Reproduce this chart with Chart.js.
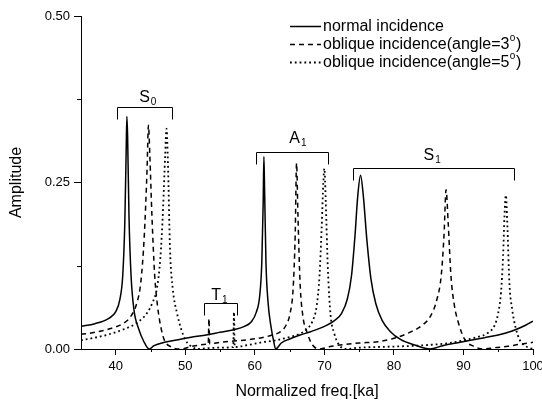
<!DOCTYPE html>
<html>
<head>
<meta charset="utf-8">
<title>Amplitude vs normalized frequency</title>
<script src="https://cdn.jsdelivr.net/npm/chart.js@4.4.0/dist/chart.umd.min.js"></script>
<style>
  html, body { margin: 0; padding: 0; background: #fff; }
  #chart { display: block; }
</style>
</head>
<body>
<canvas id="chart" width="542" height="403"></canvas>
<script>
// values
const normalX = [35, 37, 39, 40, 40.6, 41.0, 41.3, 41.5, 41.6, 41.7, 41.9, 42.2, 42.6, 43.3, 44.0, 44.8, 45.5, 47, 49, 51, 53, 55, 57, 58.5, 59.5, 60.2, 60.7, 61.0, 61.2, 61.3, 61.4, 61.6, 61.9, 62.3, 62.7, 63.0, 63.8, 65, 66.5, 68, 70, 71.5, 72.5, 73.3, 73.9, 74.4, 74.8, 75.2, 75.6, 76.1, 76.7, 77.4, 78.3, 79.5, 81, 83, 85.2, 87, 89, 91, 93, 95, 97, 99, 100];
const normalY = [0.034, 0.038, 0.046, 0.056, 0.075, 0.11, 0.19, 0.30, 0.349, 0.32, 0.20, 0.11, 0.06, 0.03, 0.012, 0.0, 0.005, 0.010, 0.014, 0.018, 0.021, 0.025, 0.029, 0.034, 0.041, 0.055, 0.08, 0.13, 0.22, 0.289, 0.24, 0.13, 0.07, 0.035, 0.012, 0.0, 0.009, 0.015, 0.021, 0.026, 0.034, 0.043, 0.054, 0.075, 0.11, 0.17, 0.23, 0.261, 0.23, 0.165, 0.105, 0.068, 0.043, 0.026, 0.014, 0.006, 0.0, 0.005, 0.009, 0.013, 0.017, 0.021, 0.027, 0.036, 0.042];

const oblique3X = [35, 37, 39, 41, 42.1, 43.0, 43.6, 44.1, 44.5, 44.7, 44.9, 45.2, 45.6, 46.0, 46.5, 47.0, 48.0, 49.3, 51, 53.0, 53.3, 53.4, 53.5, 55, 57, 59, 61, 62.5, 63.7, 64.5, 65.1, 65.5, 65.8, 66.0, 66.2, 66.5, 66.9, 67.5, 68.3, 69.3, 71, 73, 75, 77.7, 80, 82.5, 84, 85.3, 86.2, 86.8, 87.2, 87.5, 87.8, 88.2, 88.7, 89.2, 90.2, 91.5, 92.8, 94.5, 96.4, 98, 100];
const oblique3Y = [0.022, 0.025, 0.030, 0.038, 0.048, 0.068, 0.10, 0.17, 0.27, 0.336, 0.29, 0.20, 0.11, 0.065, 0.032, 0.013, 0.003, 0.0, 0.004, 0.007, 0.007, 0.046, 0.008, 0.010, 0.012, 0.014, 0.017, 0.021, 0.026, 0.036, 0.055, 0.09, 0.17, 0.279, 0.20, 0.10, 0.05, 0.025, 0.006, 0.0, 0.004, 0.007, 0.009, 0.011, 0.016, 0.026, 0.035, 0.05, 0.075, 0.11, 0.17, 0.239, 0.19, 0.11, 0.065, 0.042, 0.014, 0.004, 0.0, 0.002, 0.004, 0.007, 0.010];

const oblique5X = [35, 37, 39, 41, 43, 44.5, 45.3, 45.9, 46.4, 46.8, 47.1, 47.3, 47.5, 47.8, 48.2, 48.8, 49.4, 50.0, 50.7, 51.8, 53, 55, 56.9, 57.0, 57.1, 59, 61, 63, 65, 66.5, 67.5, 68.3, 68.9, 69.3, 69.6, 69.85, 70.0, 70.2, 70.5, 70.9, 71.4, 72.0, 73.0, 75, 77.7, 81, 84.9, 88, 90.2, 92, 93.5, 94.5, 95.0, 95.4, 95.7, 95.9, 96.1, 96.3, 96.6, 97.0, 97.5, 98.1, 99, 100];
const oblique5Y = [0.013, 0.017, 0.022, 0.029, 0.039, 0.054, 0.07, 0.09, 0.135, 0.21, 0.29, 0.331, 0.28, 0.15, 0.09, 0.054, 0.03, 0.014, 0.005, 0.0, 0.001, 0.002, 0.003, 0.055, 0.003, 0.006, 0.010, 0.013, 0.018, 0.023, 0.030, 0.042, 0.065, 0.11, 0.18, 0.25, 0.271, 0.22, 0.12, 0.05, 0.024, 0.008, 0.0, 0.002, 0.003, 0.004, 0.006, 0.009, 0.0135, 0.018, 0.024, 0.036, 0.054, 0.085, 0.14, 0.20, 0.231, 0.19, 0.10, 0.06, 0.032, 0.0135, 0.004, 0.0];

const seriesLabels = ['normal incidence', 'oblique incidence(angle=3°)', 'oblique incidence(angle=5°)'];

const xTickValues = [40, 50, 60, 70, 80, 90, 100];
const xMinorTicks = [45, 55, 65, 75, 85, 95];
const yTickValues = [0, 0.25, 0.5];
const yMinorTicks = [0.125, 0.375];

// mode brackets: label, subscript, x range, top of bracket, label anchor
const modeBrackets = [
  { name: 'S', sub: '0', from: 40.2, to: 48.1, top: 0.364, labelX: 44.6, labelY: 0.371 },
  { name: 'T', sub: '1', from: 52.7, to: 57.5, top: 0.0695, labelX: 54.9, labelY: 0.0735 },
  { name: 'A', sub: '1', from: 60.2, to: 70.5, top: 0.296, labelX: 66.2, labelY: 0.309 },
  { name: 'S', sub: '1', from: 74.1, to: 97.3, top: 0.272, labelX: 85.5, labelY: 0.284 }
];

const FONT = "'Liberation Sans', Arial, sans-serif";

function toPoints(xs, ys) {
  return xs.map((x, i) => ({ x: x, y: ys[i] }));
}

// draws a string where "°" is shown as a raised small "o"
function drawWithDegree(ctx, text, x, y, size) {
  const parts = text.split('°');
  let cx = x;
  parts.forEach((part, i) => {
    ctx.font = size + 'px ' + FONT;
    ctx.fillText(part, cx, y);
    cx += ctx.measureText(part).width;
    if (i < parts.length - 1) {
      ctx.font = Math.round(size * 0.62) + 'px ' + FONT;
      ctx.fillText('o', cx + 0.5, y - size * 0.42);
      cx += ctx.measureText('o').width + 1;
    }
  });
}

const overlay = {
  id: 'overlay',
  afterDraw(chart) {
    const { ctx, scales: { x, y } } = chart;
    ctx.save();
    ctx.strokeStyle = '#000';
    ctx.fillStyle = '#000';
    ctx.lineWidth = 1;

    // minor ticks
    ctx.beginPath();
    xMinorTicks.forEach(v => {
      const px = Math.round(x.getPixelForValue(v)) + 0.5;
      ctx.moveTo(px, y.bottom);
      ctx.lineTo(px, y.bottom + 3);
    });
    yMinorTicks.forEach(v => {
      const py = Math.round(y.getPixelForValue(v)) + 0.5;
      ctx.moveTo(x.left, py);
      ctx.lineTo(x.left - 4, py);
    });
    ctx.stroke();

    // brackets with mode labels
    modeBrackets.forEach(b => {
      const x1 = Math.round(x.getPixelForValue(b.from)) + 0.5;
      const x2 = Math.round(x.getPixelForValue(b.to)) + 0.5;
      const yt = Math.round(y.getPixelForValue(b.top)) + 0.5;
      ctx.beginPath();
      ctx.moveTo(x1, yt + 12);
      ctx.lineTo(x1, yt);
      ctx.lineTo(x2, yt);
      ctx.lineTo(x2, yt + 12);
      ctx.stroke();

      ctx.font = '16px ' + FONT;
      const w1 = ctx.measureText(b.name).width;
      ctx.font = '10px ' + FONT;
      const w2 = ctx.measureText(b.sub).width;
      const lx = x.getPixelForValue(b.labelX) - (w1 + w2 + 1) / 2;
      const ly = y.getPixelForValue(b.labelY);
      ctx.textBaseline = 'alphabetic';
      ctx.textAlign = 'left';
      ctx.font = '16px ' + FONT;
      ctx.fillText(b.name, lx, ly);
      ctx.font = '10px ' + FONT;
      ctx.fillText(b.sub, lx + w1 + 1, ly + 3);
    });

    // legend
    const rows = [26.5, 44.5, 62.5];
    chart.data.datasets.forEach((ds, i) => {
      const ry = rows[i];
      ctx.save();
      ctx.lineWidth = ds.borderWidth;
      ctx.setLineDash(ds.borderDash || []);
      ctx.beginPath();
      ctx.moveTo(290, ry);
      ctx.lineTo(321, ry);
      ctx.stroke();
      ctx.restore();
      ctx.textBaseline = 'middle';
      ctx.textAlign = 'left';
      drawWithDegree(ctx, ds.label, 323, ry, 16);
    });
    ctx.restore();
  }
};

const ctx = document.getElementById('chart').getContext('2d');

new Chart(ctx, {
  type: 'line',
  data: {
    datasets: [
      {
        label: seriesLabels[0],
        data: toPoints(normalX, normalY),
        borderColor: '#000',
        borderWidth: 1.5,
        pointRadius: 0,
        cubicInterpolationMode: 'monotone'
      },
      {
        label: seriesLabels[1],
        data: toPoints(oblique3X, oblique3Y),
        borderColor: '#000',
        borderWidth: 1.5,
        borderDash: [5, 4],
        pointRadius: 0,
        cubicInterpolationMode: 'monotone'
      },
      {
        label: seriesLabels[2],
        data: toPoints(oblique5X, oblique5Y),
        borderColor: '#000',
        borderWidth: 1.8,
        borderDash: [1.8, 3],
        pointRadius: 0,
        cubicInterpolationMode: 'monotone'
      }
    ]
  },
  options: {
    responsive: false,
    animation: false,
    devicePixelRatio: 1,
    layout: { padding: { top: 16, right: 9, bottom: 0, left: 0 } },
    plugins: {
      legend: { display: false },
      tooltip: { enabled: false }
    },
    scales: {
      x: {
        type: 'linear',
        min: 35,
        max: 100,
        afterBuildTicks: scale => { scale.ticks = xTickValues.map(v => ({ value: v })); },
        afterFit: scale => { scale.height = 54; scale.paddingRight = 0; scale.paddingLeft = 0; },
        ticks: {
          color: '#000',
          font: { family: FONT, size: 13 },
          padding: 4,
          maxRotation: 0,
          callback: v => String(v)
        },
        grid: { drawOnChartArea: false, tickLength: 6, tickColor: '#000', tickWidth: 1 },
        border: { color: '#000', width: 1 },
        title: {
          display: true,
          text: 'Normalized freq.[ka]',
          color: '#000',
          font: { family: FONT, size: 16 },
          padding: { top: 4, bottom: 2 }
        }
      },
      y: {
        min: 0,
        max: 0.5,
        afterBuildTicks: scale => { scale.ticks = yTickValues.map(v => ({ value: v })); },
        afterFit: scale => { scale.width = 81; },
        ticks: {
          color: '#000',
          font: { family: FONT, size: 13 },
          padding: 4,
          callback: v => Number(v).toFixed(2)
        },
        grid: { drawOnChartArea: false, tickLength: 7, tickColor: '#000', tickWidth: 1 },
        border: { color: '#000', width: 1 },
        title: {
          display: true,
          text: 'Amplitude',
          color: '#000',
          font: { family: FONT, size: 16 },
          padding: 7
        }
      }
    }
  },
  plugins: [overlay]
});
</script>
</body>
</html>
